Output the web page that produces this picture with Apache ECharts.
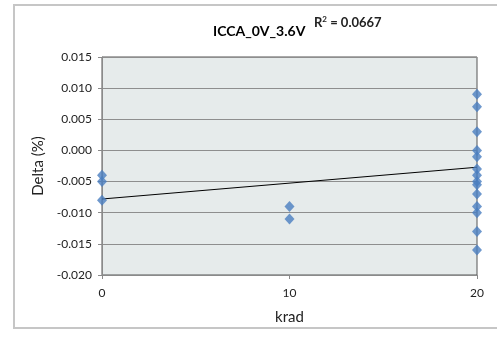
<!DOCTYPE html>
<html>
<head>
<meta charset="utf-8">
<script src="https://cdn.jsdelivr.net/npm/echarts@6/dist/echarts.min.js"></script>
<style>
  html, body { margin: 0; padding: 0; background: #fff; }
  #chart { width: 497px; height: 346px; }
</style>
</head>
<body>
<div id="chart"></div>
<script>
// 数据：x = krad, y = Delta (%)
const kradValues = [0, 0, 0, 10, 10,
    20, 20, 20, 20, 20, 20, 20, 20, 20, 20, 20, 20, 20, 20];
const deltaValues = [-0.004, -0.005, -0.008, -0.009, -0.011,
    0.009, 0.007, 0.003, 0.000, -0.001, -0.003, -0.004, -0.005, -0.0055, -0.007, -0.009, -0.010, -0.013, -0.016];

// 趋势线两端
const trendX = [0, 20];
const trendY = [-0.0078, -0.0027];

const titleText = 'ICCA_0V_3.6V';
const r2Text = '0.0667';

const chart = echarts.init(document.getElementById('chart'));

const option = {
    animation: false,
    textStyle: { fontFamily: 'Lato' },
    graphic: [{
        type: 'rect',
        shape: { x: 14, y: 5, width: 500, height: 323 },
        style: { fill: 'none', stroke: '#c6c6c6', lineWidth: 2 },
        silent: true
    }],
    title: [{
        text: titleText,
        left: 208,
        top: 19,
        textStyle: { fontSize: 14, fontWeight: 'bold', color: '#000', fontFamily: 'Lato' }
    }, {
        text: '{n|R}{s|2}{n| = ' + r2Text + '}',
        left: 309,
        top: 10,
        textStyle: {
            rich: {
                n: { fontSize: 13, color: '#222', fontFamily: 'Lato', verticalAlign: 'bottom' },
                s: { fontSize: 8, color: '#222', fontFamily: 'Lato', verticalAlign: 'top', padding: [0, 0, 6, 0] }
            }
        }
    }],
    grid: {
        left: 102, top: 57, right: 20, bottom: 71,
        show: true,
        backgroundColor: '#e6ebeb',
        borderColor: '#555',
        borderWidth: 1
    },
    xAxis: {
        type: 'value',
        min: 0, max: 20, interval: 10,
        name: 'krad',
        nameLocation: 'middle',
        nameGap: 35,
        nameTextStyle: { fontSize: 15, color: '#222', fontFamily: 'Lato' },
        axisLine: { show: true, onZero: false, lineStyle: { color: '#8a8a8a' } },
        axisTick: { show: true, length: 4, lineStyle: { color: '#8a8a8a' } },
        axisLabel: { fontSize: 12, color: '#222', margin: 12 },
        splitLine: { show: false }
    },
    yAxis: {
        type: 'value',
        min: -0.02, max: 0.015, interval: 0.005,
        name: 'Delta (%)',
        nameLocation: 'middle',
        nameGap: 52,
        nameTextStyle: { fontSize: 15, color: '#222', fontFamily: 'Lato' },
        axisLine: { show: true, onZero: false, lineStyle: { color: '#8a8a8a' } },
        axisTick: { show: true, length: 4, lineStyle: { color: '#8a8a8a' } },
        axisLabel: {
            fontSize: 12, color: '#222', margin: 10,
            formatter: v => (Math.abs(v) < 1e-9 ? 0 : v).toFixed(3)
        },
        splitLine: { show: true, lineStyle: { color: '#8e8e8e', width: 1 } }
    },
    series: [{
        type: 'line',
        data: trendX.map((x, i) => [x, trendY[i]]),
        showSymbol: false,
        symbol: 'none',
        lineStyle: { color: '#000', width: 1 },
        z: 2
    }, {
        type: 'scatter',
        data: kradValues.map((x, i) => [x, deltaValues[i]]),
        symbol: 'diamond',
        symbolSize: [10, 11],
        itemStyle: { color: '#4a7ec0' },
        clip: false,
        z: 3
    }]
};
chart.setOption(option);

window.addEventListener('resize', () => chart.resize());
</script>
</body>
</html>
